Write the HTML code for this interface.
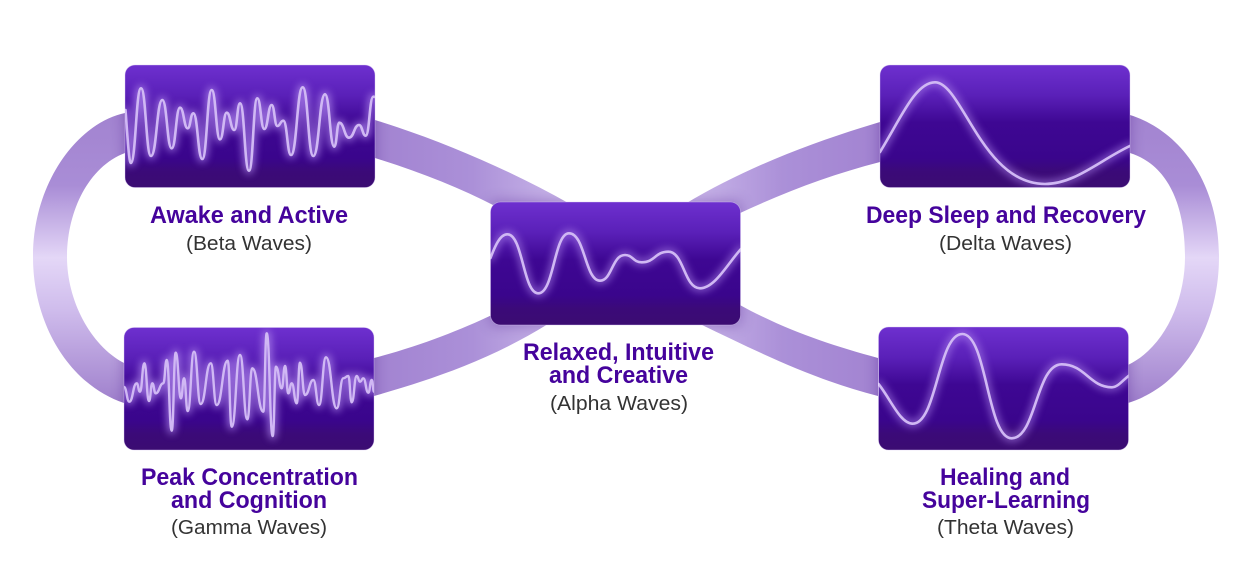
<!DOCTYPE html>
<html><head><meta charset="utf-8">
<style>
html,body{margin:0;padding:0;background:#fff}
svg{display:block}
.t{font-family:"Liberation Sans",sans-serif;font-weight:700;font-size:24px;fill:#45039c}
.s{font-family:"Liberation Sans",sans-serif;font-size:20px;fill:#333}
</style></head>
<body>
<svg xmlns="http://www.w3.org/2000/svg" width="1258" height="576" viewBox="0 0 1258 576">
<defs>
<linearGradient id="box" x1="0" y1="0" x2="0" y2="1">
<stop offset="0" stop-color="#6e30cf"/><stop offset=".25" stop-color="#5a20b8"/><stop offset=".47" stop-color="#3e0793"/><stop offset=".76" stop-color="#3a058c"/><stop offset=".87" stop-color="#3b0a78"/><stop offset="1" stop-color="#3b0c72"/>
</linearGradient>
<linearGradient id="loop" gradientUnits="userSpaceOnUse" x1="0" y1="113" x2="0" y2="403">
<stop offset="0" stop-color="#a283d0"/><stop offset=".25" stop-color="#a98dd6"/><stop offset=".5" stop-color="#e4d7f7"/><stop offset=".68" stop-color="#cfbcec"/><stop offset="1" stop-color="#9f80cc"/>
</linearGradient>
<linearGradient id="lr" gradientUnits="userSpaceOnUse" x1="375" y1="0" x2="570" y2="0">
<stop offset="0" stop-color="#a283d1"/><stop offset=".5" stop-color="#ab90d8"/><stop offset="1" stop-color="#cbb8ea"/>
</linearGradient>
<linearGradient id="rl" gradientUnits="userSpaceOnUse" x1="880" y1="0" x2="685" y2="0">
<stop offset="0" stop-color="#a283d1"/><stop offset=".5" stop-color="#ab90d8"/><stop offset="1" stop-color="#cbb8ea"/>
</linearGradient>
<path id="r1" d="M125,113C80,122 33,180 33,257C33,325 70,385 124,403L124,363C90,345 67,300 67,257C67,212 88,167 125,153Z"/>
<path id="r2" d="M1130,115C1178,130 1219,180 1219,257C1219,325 1185,385 1128,403L1128,365C1165,347 1185,300 1185,257C1185,205 1168,165 1130,153Z"/>
<path id="r3" d="M375,120C440,140 510,170 570,204L495,206C460,188 420,172 375,158Z"/>
<path id="r4" d="M374,358C420,346 460,330 492,315L548,324C490,360 430,380 374,396Z"/>
<path id="r5" d="M685,204C745,168 810,143 880,122L880,162C830,175 785,192 738,214Z"/>
<path id="r6" d="M738,304C785,330 830,345 878,358L878,396C815,380 760,353 700,324Z"/>
<clipPath id="rib">
<use href="#r1"/><use href="#r2"/><use href="#r3"/><use href="#r4"/><use href="#r5"/><use href="#r6"/>
</clipPath>
<filter id="sh" x="-20%" y="-30%" width="140%" height="160%"><feGaussianBlur stdDeviation="7"/></filter>
<filter id="gl" x="-10%" y="-20%" width="120%" height="140%"><feGaussianBlur stdDeviation="4"/></filter>
<clipPath id="c1"><rect x="125" y="65" width="250" height="122.5" rx="10"/></clipPath>
<clipPath id="c2"><rect x="124" y="327.5" width="250" height="122.5" rx="10"/></clipPath>
<clipPath id="c3"><rect x="490.5" y="202" width="250" height="123" rx="10"/></clipPath>
<clipPath id="c4"><rect x="880" y="65" width="250" height="122.5" rx="10"/></clipPath>
<clipPath id="c5"><rect x="878.5" y="327" width="250" height="123" rx="10"/></clipPath>
<path id="w1" d="M125.5,110 C127,130 129,163 130.7,163 C135.9,163 135.9,88.3 141,88.3 C146,88.3 146,156 151,156 C156.7,156 156.7,100 162.3,100 C167,100 167,148.3 171.7,148.3 C175.9,148.3 175.9,107.7 180,107.7 C183.9,107.7 183.9,128.3 187.7,128.3 C190.5,128.3 190.5,113.3 193.3,113.3 C197.8,113.3 197.8,159 202.3,159 C207,159 207,90 211.7,90 C215.9,90 215.9,139.3 220,139.3 C223.4,139.3 223.4,112.7 226.7,112.7 C230.5,112.7 230.5,130 234.3,130 C237.2,130 237.2,103.3 240,103.3 C244.5,103.3 244.5,170.7 249,170.7 C253.2,170.7 253.2,98.3 257.3,98.3 C260.8,98.3 260.8,129 264.3,129 C268,129 268,105 271.7,105 C274.5,105 274.5,126 277.3,126 C280.3,126 280.3,120.7 283.3,120.7 C287.2,120.7 287.2,155 291,155 C296.9,155 296.9,87.3 302.7,87.3 C308,87.3 308,156 313.3,156 C319.2,156 319.2,94.3 325,94.3 C329.7,94.3 329.7,146.7 334.3,146.7 C336.8,146.7 336.8,122.7 339.3,122.7 C344.2,122.7 344.2,137.7 349,137.7 C354,137.7 354,125 359,125 C362.4,125 362.4,135.7 365.7,135.7 C369.5,135.7 369.5,96.7 373.3,96.7 L376,97"/>
<path id="w2" d="M124,387 C126.7,387 126.7,401.7 129.3,401.7 C133,401.7 133,383.3 136.7,383.3 C138.3,383.3 138.3,391.7 140,391.7 C142.2,391.7 142.2,363.3 144.3,363.3 C146.7,363.3 146.7,401 149,401 C150.7,401 150.7,383.3 152.3,383.3 C154,383.3 154,393.3 155.7,393.3 C159.5,393.3 159.5,383.3 163.3,383.3 C165,383.3 165,360 166.7,360 C169.2,360 169.2,430.7 171.7,430.7 C173.7,430.7 173.7,352.7 175.7,352.7 C178.4,352.7 178.4,398.3 181,398.3 C182.5,398.3 182.5,378.3 184,378.3 C185.9,378.3 185.9,411 187.7,411 C190.9,411 190.9,351.7 194,351.7 C197.4,351.7 197.4,404 200.7,404 C205.7,404 205.7,363.3 210.7,363.3 C213.7,363.3 213.7,405 216.7,405 C222.2,405 222.2,360.7 227.7,360.7 C229.7,360.7 229.7,426.7 231.7,426.7 C235.9,426.7 235.9,355 240,355 C243.7,355 243.7,419.3 247.3,419.3 C249.8,419.3 249.8,368.3 252.3,368.3 C257.8,368.3 257.8,411.7 263.3,411.7 C265,411.7 265,333.3 266.7,333.3 C269.7,333.3 269.7,436 272.7,436 C274.4,436 274.4,366.7 276,366.7 C278.9,366.7 278.9,388.3 281.7,388.3 C283.4,388.3 283.4,366 285,366 C286.7,366 286.7,393.3 288.3,393.3 C290,393.3 290,383.3 291.7,383.3 C294.2,383.3 294.2,403.3 296.7,403.3 C298.4,403.3 298.4,362.7 300,362.7 C302.5,362.7 302.5,395 305,395 C309.2,395 309.2,380 313.3,380 C316.2,380 316.2,405 319,405 C322.5,405 322.5,357.3 326,357.3 C331.4,357.3 331.4,408.3 336.7,408.3 C340,408.3 340,378.3 343.3,378.3 C345.8,378.3 345.8,376 348.3,376 C350,376 350,402.3 351.7,402.3 C354.2,402.3 354.2,376 356.7,376 C358.4,376 358.4,381.7 360,381.7 C361.7,381.7 361.7,378.3 363.3,378.3 C365.8,378.3 365.8,392.7 368.3,392.7 C370,392.7 370,380 371.7,380 C372.9,380 372.9,391.7 374,391.7"/>
<path id="w3" d="M490.5,258 C495,246 500,234.3 507.3,234.3 C523,234.3 523,293.3 538.3,293.3 C554,293.3 554,233.3 569,233.3 C585,233.3 585,280.7 600,280.7 C612,280.7 612,255 625,255 C633,255 633,262.3 641.7,262.3 C655,262.3 655,251.7 668.3,251.7 C684,251.7 684,288.3 700,288.3 C715,288.3 728,263 741,249"/>
<path id="w4" d="M880,152 C900,120 915,82.3 935,82.3 C962,82.3 982,184 1045,184 C1075,184 1100,160 1131,145.5"/>
<path id="w5" d="M878.5,384 C890,398 900,423.7 912.7,423.7 C937,423.7 938,334 962.3,334 C987,334 987,438.3 1011.7,438.3 C1036,438.3 1036,364.3 1061.7,364.3 C1085,364.3 1090,387.3 1111.7,387.3 C1118,387.3 1123,380 1129,375.5"/>
</defs>

<!-- ribbons -->
<use href="#r1" fill="url(#loop)"/>
<use href="#r2" fill="url(#loop)"/>
<use href="#r3" fill="url(#lr)"/>
<use href="#r4" fill="url(#lr)"/>
<use href="#r5" fill="url(#rl)"/>
<use href="#r6" fill="url(#rl)"/>
<!-- shadows cast on ribbons only -->
<g clip-path="url(#rib)">
<g fill="#3a0a80" opacity=".34" filter="url(#sh)">
<rect x="125" y="65" width="250" height="122.5"/>
<rect x="124" y="327.5" width="250" height="122.5"/>
<rect x="490.5" y="202" width="250" height="123"/>
<rect x="880" y="65" width="250" height="122.5"/>
<rect x="878.5" y="327" width="250" height="123"/>
</g>
</g>

<!-- boxes -->
<g fill="url(#box)" stroke="#d9c8f2" stroke-opacity=".55" stroke-width=".7">
<rect x="125" y="65" width="250" height="122.5" rx="10"/>
<rect x="124" y="327.5" width="250" height="122.5" rx="10"/>
<rect x="490.5" y="202" width="250" height="123" rx="10"/>
<rect x="880" y="65" width="250" height="122.5" rx="10"/>
<rect x="878.5" y="327" width="250" height="123" rx="10"/>
</g>

<!-- waves -->
<g fill="none" stroke-linecap="round" stroke-linejoin="round">
<g clip-path="url(#c1)"><use href="#w1" stroke="#b48cf0" stroke-width="7" opacity=".7" filter="url(#gl)"/><use href="#w1" stroke="#d0b8f4" stroke-width="2.6"/></g>
<g clip-path="url(#c2)"><use href="#w2" stroke="#b48cf0" stroke-width="7" opacity=".7" filter="url(#gl)"/><use href="#w2" stroke="#d0b8f4" stroke-width="2.4"/></g>
<g clip-path="url(#c3)"><use href="#w3" stroke="#b48cf0" stroke-width="7" opacity=".6" filter="url(#gl)"/><use href="#w3" stroke="#d0b8f4" stroke-width="2.6"/></g>
<g clip-path="url(#c4)"><use href="#w4" stroke="#b48cf0" stroke-width="7" opacity=".6" filter="url(#gl)"/><use href="#w4" stroke="#d0b8f4" stroke-width="2.6"/></g>
<g clip-path="url(#c5)"><use href="#w5" stroke="#b48cf0" stroke-width="7" opacity=".6" filter="url(#gl)"/><use href="#w5" stroke="#d0b8f4" stroke-width="2.6"/></g>
</g>

<!-- labels -->
<text class="t" x="150" y="223" textLength="198" lengthAdjust="spacingAndGlyphs">Awake and Active</text>
<text class="s" x="186" y="250" textLength="126" lengthAdjust="spacingAndGlyphs">(Beta Waves)</text>
<text class="t" x="141" y="485" textLength="217" lengthAdjust="spacingAndGlyphs">Peak Concentration</text>
<text class="t" x="171" y="508" textLength="156" lengthAdjust="spacingAndGlyphs">and Cognition</text>
<text class="s" x="171" y="534" textLength="156" lengthAdjust="spacingAndGlyphs">(Gamma Waves)</text>
<text class="t" x="523" y="360" textLength="191" lengthAdjust="spacingAndGlyphs">Relaxed, Intuitive</text>
<text class="t" x="549" y="383" textLength="139" lengthAdjust="spacingAndGlyphs">and Creative</text>
<text class="s" x="550" y="410" textLength="138" lengthAdjust="spacingAndGlyphs">(Alpha Waves)</text>
<text class="t" x="866" y="223" textLength="280" lengthAdjust="spacingAndGlyphs">Deep Sleep and Recovery</text>
<text class="s" x="939" y="250" textLength="133" lengthAdjust="spacingAndGlyphs">(Delta Waves)</text>
<text class="t" x="940" y="485" textLength="130" lengthAdjust="spacingAndGlyphs">Healing and</text>
<text class="t" x="922" y="508" textLength="168" lengthAdjust="spacingAndGlyphs">Super-Learning</text>
<text class="s" x="937" y="534" textLength="137" lengthAdjust="spacingAndGlyphs">(Theta Waves)</text>
</svg>
</body></html>
